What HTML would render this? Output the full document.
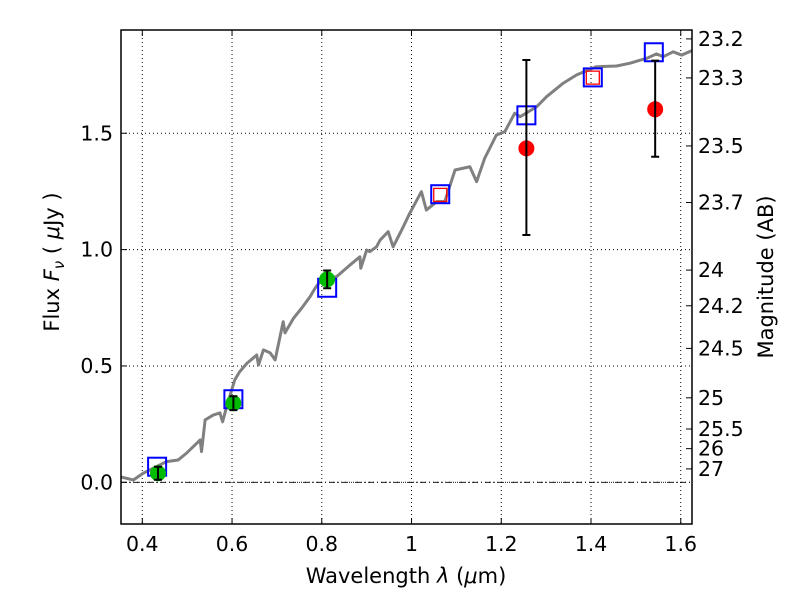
<!DOCTYPE html>
<html><head><meta charset="utf-8"><style>
body{margin:0;background:#fff;}
svg{display:block;font-family:"DejaVu Sans","Liberation Sans",sans-serif;}
</style></head><body>
<svg id="chart" width="800" height="600"></svg>
<script>
const specLam=[0.350,0.380,0.402,0.454,0.480,0.499,0.529,0.532,0.540,0.558,0.573,0.579,0.588,0.606,0.617,0.633,0.655,0.659,0.670,0.685,0.696,0.714,0.718,0.737,0.755,0.774,0.785,0.796,0.833,0.863,0.885,0.887,0.900,0.907,0.922,0.930,0.948,0.959,0.978,0.996,1.022,1.033,1.056,1.074,1.097,1.130,1.145,1.163,1.189,1.208,1.230,1.242,1.279,1.301,1.338,1.368,1.412,1.457,1.487,1.524,1.546,1.561,1.583,1.602,1.625];
const specFlux=[0.024,0.010,0.039,0.089,0.096,0.126,0.182,0.132,0.268,0.289,0.298,0.260,0.325,0.440,0.475,0.511,0.547,0.504,0.569,0.556,0.526,0.690,0.642,0.705,0.748,0.798,0.834,0.862,0.884,0.934,0.969,0.920,0.998,0.991,1.012,1.041,1.077,1.012,1.084,1.156,1.249,1.170,1.206,1.206,1.342,1.356,1.292,1.392,1.492,1.507,1.586,1.571,1.614,1.657,1.715,1.751,1.786,1.789,1.801,1.822,1.841,1.829,1.850,1.836,1.855];
const modelLam=[0.433,0.603,0.812,1.064,1.256,1.404,1.540];
const modelFlux=[0.067,0.357,0.836,1.238,1.577,1.740,1.848];
const redSqLam=[1.064,1.404];
const redSqFlux=[1.235,1.739];
const detLam=[0.435,0.603,0.812];
const detFlux=[0.039,0.340,0.872];
const detErr=[0.028,0.030,0.038];
const lowLam=[1.256,1.543];
const lowFlux=[1.435,1.603];
const lowErrHi=[1.815,1.812];
const lowErrLo=[1.063,1.399];
const xTicks=[0.4,0.6,0.8,1.0,1.2,1.4,1.6];
const xTickLabels=["0.4","0.6","0.8","1","1.2","1.4","1.6"];
const yTicks=[0.0,0.5,1.0,1.5];
const yTickLabels=["0.0","0.5","1.0","1.5"];
const magTicks=[23.2,23.3,23.5,23.7,24,24.2,24.5,25,25.5,26,27];
const magLabels=["23.2","23.3","23.5","23.7","24","24.2","24.5","25","25.5","26","27"];

const L=121,R=692,T=30,B=524;
const X=v=>142.3+(v-0.4)*448.7;
const Y=v=>482.3-v*232.7;
const NS="http://www.w3.org/2000/svg";
const svg=document.getElementById('chart');
function mk(tag,attrs,parent){const e=document.createElementNS(NS,tag);for(const k in attrs)e.setAttribute(k,attrs[k]);(parent||svg).appendChild(e);return e;}

const defs=mk('defs',{});const cp=mk('clipPath',{id:'pc'},defs);mk('rect',{x:L,y:T,width:R-L,height:B-T},cp);

xTicks.forEach((t,i)=>{const g=mk('line',{x1:X(t),x2:X(t),y1:T,y2:B,stroke:'#000','stroke-width':1,'stroke-dasharray':'1,3'});

});
yTicks.forEach((t,i)=>{const g=mk('line',{x1:L,x2:R,y1:Y(t),y2:Y(t),stroke:'#000','stroke-width':1,'stroke-dasharray':'1,3'});

});
const z=mk('line',{x1:L,x2:R,y1:Y(0),y2:Y(0),stroke:'#000','stroke-width':0.8,'stroke-dasharray':'6,3,1,3'});



const pg=mk('g',{'clip-path':'url(#pc)'});
const sp=mk('polyline',{points:specLam.map((l,i)=>X(l)+','+Y(specFlux[i])).join(' '),fill:'none',stroke:'#808080','stroke-width':3,'stroke-linejoin':'round'},pg);



modelLam.forEach((l,i)=>{const r=mk('rect',{x:X(l)-9,y:Y(modelFlux[i])-9,width:18,height:18,fill:'none',stroke:'#0000ff','stroke-width':2},pg);

});
redSqLam.forEach((l,i)=>{const r=mk('rect',{x:X(l)-6.5,y:Y(redSqFlux[i])-6.5,width:13,height:13,fill:'none',stroke:'#ff0000','stroke-width':1.3},pg);

});

detLam.forEach((l,i)=>{const c=mk('circle',{cx:X(l),cy:Y(detFlux[i]),r:8,fill:'#00bb00'},pg);


const x=X(l),y1=Y(detFlux[i]+detErr[i]),y2=Y(detFlux[i]-detErr[i]);
const e=mk('path',{d:`M${x},${y1}V${y2}M${x-4},${y1}H${x+4}M${x-4},${y2}H${x+4}`,stroke:'#000','stroke-width':2,fill:'none'},pg);

});
lowLam.forEach((l,i)=>{const c=mk('circle',{cx:X(l),cy:Y(lowFlux[i]),r:8,fill:'#ff0000'},pg);


const x=X(l),y1=Y(lowErrHi[i]),y2=Y(lowErrLo[i]);
const e=mk('path',{d:`M${x},${y1}V${y2}M${x-4},${y1}H${x+4}M${x-4},${y2}H${x+4}`,stroke:'#000','stroke-width':2,fill:'none'},pg);

});

const fr=mk('rect',{x:L,y:T,width:R-L,height:B-T,fill:'none',stroke:'#000','stroke-width':1.5});



xTicks.forEach((t,i)=>{mk('line',{x1:X(t),x2:X(t),y1:B,y2:B-6,stroke:'#000'});mk('line',{x1:X(t),x2:X(t),y1:T,y2:T+6,stroke:'#000'});
const tx=mk('text',{x:X(t),y:B+27,'font-size':20.5,'text-anchor':'middle'});tx.textContent=xTickLabels[i];

});
yTicks.forEach((t,i)=>{mk('line',{x1:L,x2:L+6,y1:Y(t),y2:Y(t),stroke:'#000'});
const tx=mk('text',{x:L-8,y:Y(t)+7,'font-size':20.5,'text-anchor':'end'});tx.textContent=yTickLabels[i];

});
magTicks.forEach((m,i)=>{const f=Math.pow(10,(23.9-m)/2.5);const y=Y(f);
mk('line',{x1:R,x2:R-6,y1:y,y2:y,stroke:'#000'});
const tx=mk('text',{x:R+6,y:y+7,'font-size':20.5,'text-anchor':'start'});tx.textContent=magLabels[i];

});

const xt=mk('text',{x:406,y:583,'font-size':21,'text-anchor':'middle'});
xt.innerHTML='Wavelength  <tspan font-style="italic">λ</tspan> (<tspan font-style="italic">μ</tspan>m)';


const yt=mk('text',{x:0,y:0,'font-size':21,'text-anchor':'middle',transform:'translate(59,262) rotate(-90)'});
yt.innerHTML='Flux  <tspan font-style="italic">F</tspan><tspan font-style="italic" font-size="15" dy="5">ν</tspan><tspan dy="-5">  ( </tspan><tspan font-style="italic">μ</tspan>Jy )';


const rt=mk('text',{x:0,y:0,'font-size':21,'text-anchor':'middle',transform:'translate(773,277) rotate(-90)'});
rt.textContent='Magnitude (AB)';


</script>
</body></html>
